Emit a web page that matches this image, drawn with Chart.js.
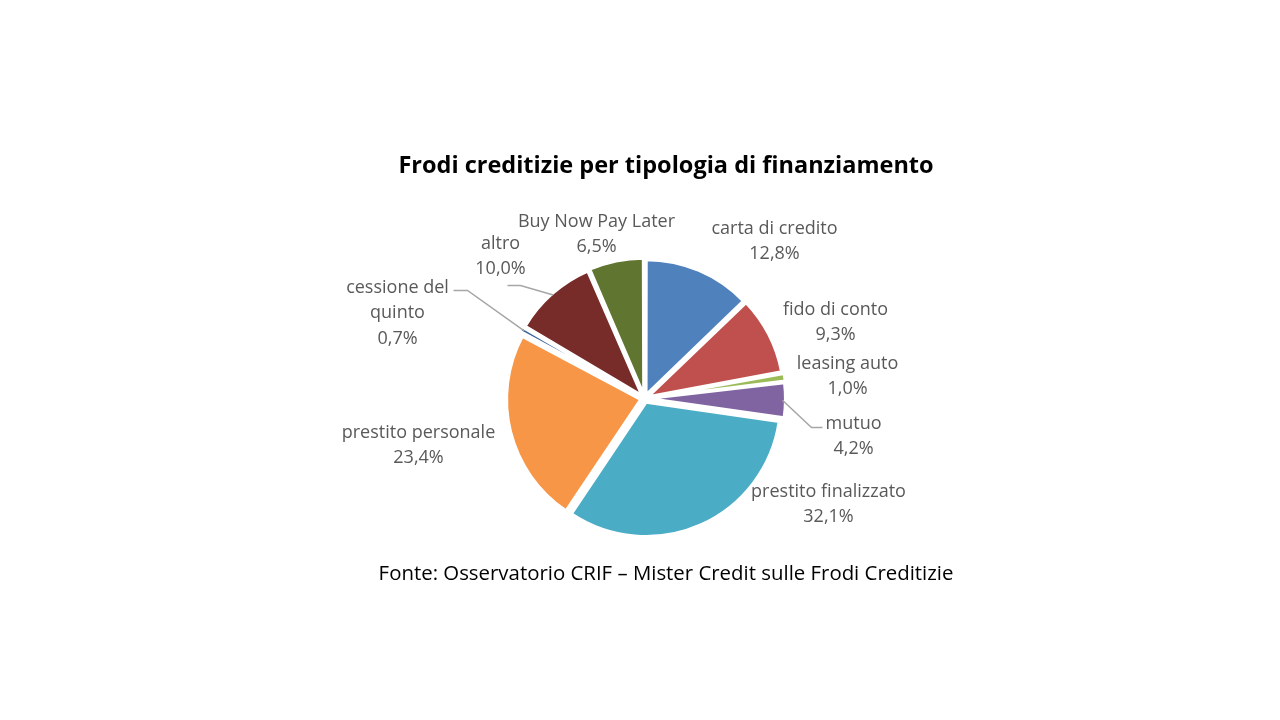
<!DOCTYPE html>
<html>
<head>
<meta charset="utf-8">
<title>Frodi creditizie per tipologia di finanziamento</title>
<script src="https://cdn.jsdelivr.net/npm/chart.js@4.4.0/dist/chart.umd.min.js"></script>
<style>
  html, body { margin: 0; padding: 0; background: #fff; }
  #wrap { width: 1280px; height: 720px; }
</style>
</head>
<body>
<div id="wrap"><canvas id="chart" width="1280" height="720"></canvas></div>
<script>
// data
const categories = ['carta di credito', 'fido di conto', 'leasing auto', 'mutuo', 'prestito finalizzato',
  'prestito personale', 'cessione del quinto', 'altro', 'Buy Now Pay Later'];
const shares = [12.8, 9.3, 1.0, 4.2, 32.1, 23.4, 0.7, 10.0, 6.5];
const sliceColors = ['#4F81BD', '#C0504D', '#9BBB59', '#8064A2', '#4BACC6',
  '#F79646', '#3565A3', '#772C2A', '#5F7530'];

const titleText = 'Frodi creditizie per tipologia di finanziamento';
const sourceText = 'Fonte: Osservatorio CRIF \u2013 Mister Credit sulle Frodi Creditizie';

// label placement, relative to the pie centre (first text line)
const labelPlace = [[130, -170], [191, -89], [203, -35], [209, 25], [184, 93],
  [-226, 34], [-247, -111], [-144, -155], [-48, -177]];
// leader lines: [kneeDx, kneeDy, endDx, endDy] relative to the label anchor
const leaders = { 3: [-42, 4, -31, 4], 6: [70, 3, 56, 3], 7: [20, 42, 7, 42] };

const FONT = '"Open Sans", "Noto Sans", sans-serif';

function labelLines(i) {
  const name = categories[i] === 'cessione del quinto' ? ['cessione del', 'quinto'] : [categories[i]];
  return name.concat(shares[i].toFixed(1).replace('.', ',') + '%');
}

const pieLabels = {
  id: 'pieLabels',
  afterDatasetsDraw(chart) {
    const ctx = chart.ctx;
    const arcs = chart.getDatasetMeta(0).data;
    ctx.save();
    arcs.forEach((arc, i) => {
      const cx = arc.x, cy = arc.y;
      const ax = cx + labelPlace[i][0], ay = cy + labelPlace[i][1];
      if (leaders[i]) {
        const mid = (arc.startAngle + arc.endAngle) / 2;
        const r = arc.outerRadius + 4;
        const l = leaders[i];
        ctx.strokeStyle = '#A6A6A6';
        ctx.lineWidth = 1.5;
        ctx.beginPath();
        ctx.moveTo(cx + Math.cos(mid) * r, cy + Math.sin(mid) * r);
        ctx.lineTo(ax + l[0], ay + l[1]);
        ctx.lineTo(ax + l[2], ay + l[3]);
        ctx.stroke();
      }
      ctx.fillStyle = '#595959';
      ctx.font = '18px ' + FONT;
      ctx.textAlign = 'center';
      ctx.textBaseline = 'middle';
      labelLines(i).forEach((t, k) => ctx.fillText(t, ax, ay + k * 25.5));
    });

    ctx.fillStyle = '#000';
    ctx.font = 'bold 23.5px ' + FONT;
    ctx.fillText(titleText, 666, 166);
    ctx.font = '20.4px ' + FONT;
    ctx.fillText(sourceText, 666, 574);
    ctx.restore();
  }
};

new Chart(document.getElementById('chart'), {
  type: 'pie',
  data: {
    labels: categories,
    datasets: [{
      data: shares,
      backgroundColor: sliceColors,
      borderColor: '#fff',
      borderWidth: 3,
      offset: 16
    }]
  },
  options: {
    responsive: false,
    animation: false,
    radius: 134,
    layout: { padding: { left: 494, right: 485, top: 249, bottom: 172 } },
    plugins: {
      legend: { display: false },
      tooltip: { enabled: false }
    }
  },
  plugins: [pieLabels]
});
</script>
</body>
</html>
